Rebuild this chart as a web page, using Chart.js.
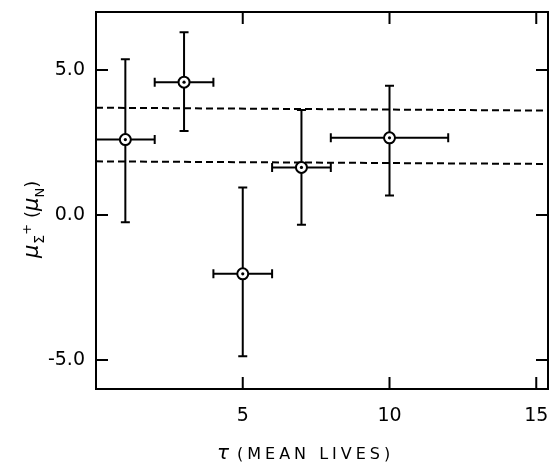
<!DOCTYPE html>
<html>
<head>
<meta charset="utf-8">
<script src="https://cdn.jsdelivr.net/npm/chart.js@4"></script>
<style>
  html, body { margin: 0; padding: 0; background: #fff; overflow: hidden; }
  canvas { display: block; }
</style>
</head>
<body>
<canvas id="chart" width="551" height="464"></canvas>
<script>
// ---------------------------------------------
// Data
// ---------------------------------------------

const tau = [1, 3, 5, 7, 10];
const tauErr = [1, 1, 1, 1, 2];
const mu = [2.6, 4.58, -2.03, 1.64, 2.66];
const muErrUp = [2.77, 1.72, 2.98, 1.98, 1.8];
const muErrDown = [2.85, 1.68, 2.84, 1.98, 1.99];

const lineX = [0, 15.4];
const upperLine = [3.70, 3.60];
const lowerLine = [1.85, 1.76];

const xTicks = [5, 10, 15];
const yTicks = [-5, 0, 5];

const FONT = "'DejaVu Sans', sans-serif";

// ---------------------------------------------
// Helpers
// ---------------------------------------------

function pts(xs, ys) {
  return xs.map((x, i) => ({ x, y: ys[i] }));
}

function noPad(s) {
  s.paddingLeft = 0;
  s.paddingRight = 0;
  s.paddingTop = 0;
  s.paddingBottom = 0;
}

const plotDecor = {
  id: "plotDecor",
  beforeDatasetsDraw(chart) {
    const { ctx, scales: { x, y } } = chart;
    const cap = 4.5;
    ctx.save();
    ctx.strokeStyle = "#000";
    ctx.lineWidth = 2;
    tau.forEach((t, i) => {
      const px = x.getPixelForValue(t);
      const py = y.getPixelForValue(mu[i]);
      const top = y.getPixelForValue(mu[i] + muErrUp[i]);
      const bot = y.getPixelForValue(mu[i] - muErrDown[i]);
      const l = x.getPixelForValue(t - tauErr[i]);
      const r = x.getPixelForValue(t + tauErr[i]);
      ctx.beginPath();
      ctx.moveTo(px, top); ctx.lineTo(px, bot);
      ctx.moveTo(px - cap, top); ctx.lineTo(px + cap, top);
      ctx.moveTo(px - cap, bot); ctx.lineTo(px + cap, bot);
      ctx.moveTo(l, py); ctx.lineTo(r, py);
      ctx.moveTo(l, py - cap); ctx.lineTo(l, py + cap);
      ctx.moveTo(r, py - cap); ctx.lineTo(r, py + cap);
      ctx.stroke();
    });
    ctx.restore();
  },
  afterDatasetsDraw(chart) {
    const { ctx, scales: { x, y } } = chart;
    ctx.save();
    ctx.fillStyle = "#000";
    tau.forEach((t, i) => {
      ctx.beginPath();
      ctx.arc(x.getPixelForValue(t), y.getPixelForValue(mu[i]), 1.6, 0, Math.PI * 2);
      ctx.fill();
    });
    ctx.restore();
  },
  afterDraw(chart) {
    const { ctx, chartArea: a, scales: { x, y } } = chart;
    const tl = 12;
    ctx.save();
    ctx.strokeStyle = "#000";
    ctx.lineWidth = 2;
    ctx.strokeRect(a.left, a.top, a.right - a.left, a.bottom - a.top);
    ctx.beginPath();
    xTicks.forEach(v => {
      const px = x.getPixelForValue(v);
      ctx.moveTo(px, a.bottom); ctx.lineTo(px, a.bottom - tl);
      ctx.moveTo(px, a.top); ctx.lineTo(px, a.top + tl);
    });
    yTicks.forEach(v => {
      const py = y.getPixelForValue(v);
      ctx.moveTo(a.left, py); ctx.lineTo(a.left + tl, py);
      ctx.moveTo(a.right, py); ctx.lineTo(a.right - tl, py);
    });
    ctx.stroke();

    // x tick labels
    ctx.fillStyle = "#000";
    ctx.font = "19px " + FONT;
    ctx.textAlign = "center";
    ctx.textBaseline = "alphabetic";
    xTicks.forEach(v => {
      ctx.fillText(String(v), x.getPixelForValue(v), a.bottom + 32);
    });

    // x axis title
    ctx.textAlign = "left";
    ctx.font = "italic 20px " + FONT;
    ctx.fillText("τ", 217, 459);
    ctx.font = "16px " + FONT;
    ctx.letterSpacing = "4px";
    ctx.fillText("(MEAN LIVES)", 237, 459);
    ctx.letterSpacing = "0px";

    // y axis title, rotated
    ctx.translate(38, 258);
    ctx.rotate(-Math.PI / 2);
    let cx = 0;
    const put = (txt, font, dy) => {
      ctx.font = font;
      ctx.fillText(txt, cx, dy);
      cx += ctx.measureText(txt).width;
    };
    put("μ", "italic 21px " + FONT, 0);
    cx += 1;
    put("Σ", "14px " + FONT, 6);
    put("+", "13px " + FONT, -7);
    cx += 6;
    put("(", "18px " + FONT, 0);
    put("μ", "italic 21px " + FONT, 0);
    put("N", "13px " + FONT, 6);
    put(")", "18px " + FONT, 0);
    ctx.restore();
  }
};

// ---------------------------------------------
// Build chart
// ---------------------------------------------

new Chart(document.getElementById("chart"), {
  type: "scatter",
  data: {
    datasets: [
      {
        label: "μ",
        data: pts(tau, mu),
        pointStyle: "circle",
        pointRadius: 5.5,
        pointBorderWidth: 2,
        pointBorderColor: "#000",
        pointBackgroundColor: "#fff",
        order: 0
      },
      {
        type: "line",
        data: pts(lineX, upperLine),
        borderColor: "#000",
        borderWidth: 2,
        borderDash: [7, 4],
        pointRadius: 0,
        order: 1
      },
      {
        type: "line",
        data: pts(lineX, lowerLine),
        borderColor: "#000",
        borderWidth: 2,
        borderDash: [7, 4],
        pointRadius: 0,
        order: 1
      }
    ]
  },
  options: {
    responsive: false,
    animation: false,
    layout: { autoPadding: false, padding: { left: 0, top: 12, right: 3, bottom: 0 } },
    plugins: {
      legend: { display: false },
      tooltip: { enabled: false }
    },
    scales: {
      x: {
        type: "linear",
        min: 0,
        max: 15.4,
        afterBuildTicks: s => { s.ticks = xTicks.map(v => ({ value: v })); },
        afterFit: s => { s.height = 75; noPad(s); },
        grid: { display: false },
        border: { display: false },
        ticks: { display: false }
      },
      y: {
        type: "linear",
        min: -6,
        max: 7,
        afterBuildTicks: s => { s.ticks = yTicks.map(v => ({ value: v })); },
        afterFit: s => { s.width = 96; noPad(s); },
        grid: { display: false },
        border: { display: false },
        ticks: {
          color: "#000",
          padding: 3,
          font: { family: FONT, size: 19 },
          callback: v => v.toFixed(1)
        }
      }
    }
  },
  plugins: [plotDecor]
});
</script>
</body>
</html>
